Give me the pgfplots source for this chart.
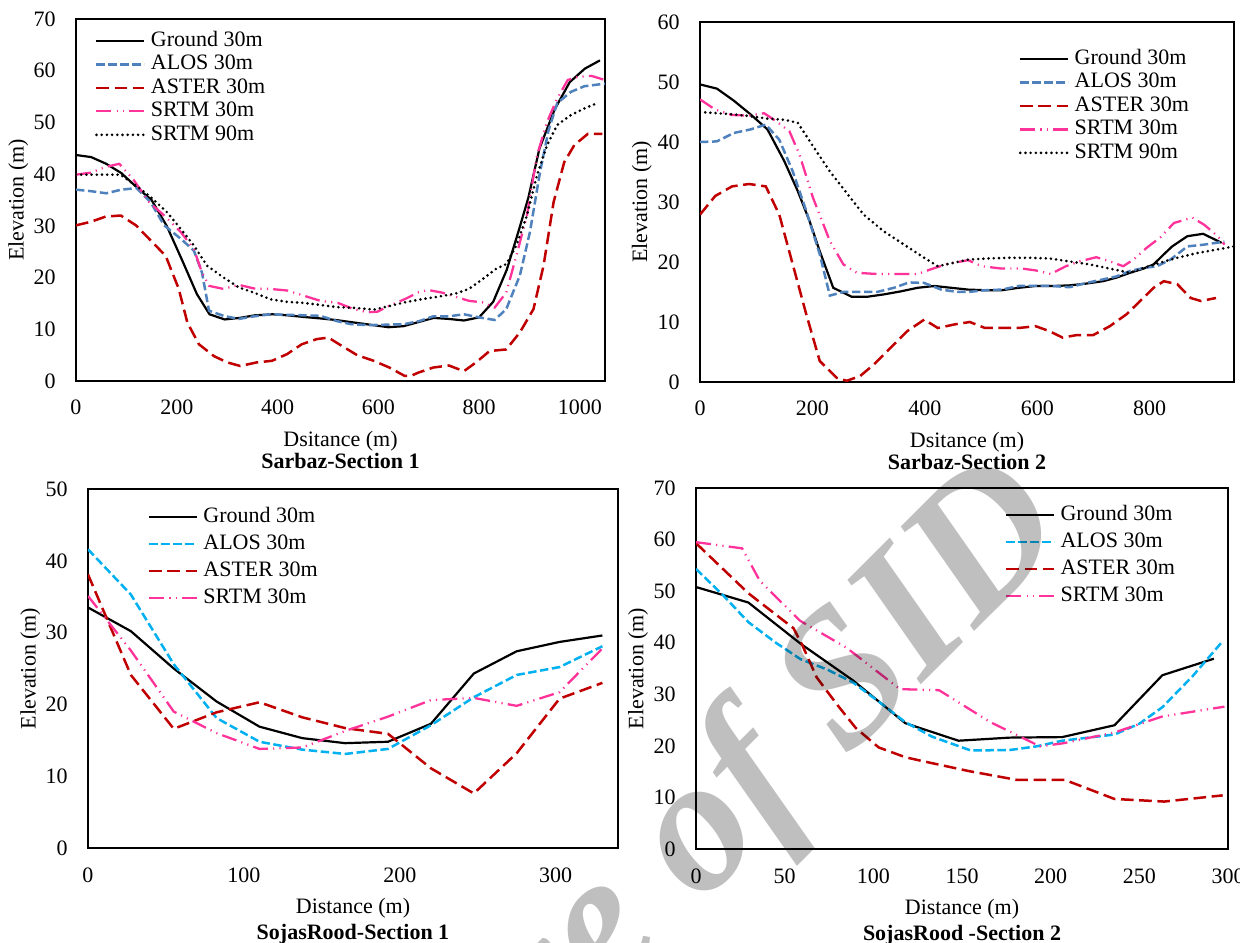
\documentclass[border=0pt]{standalone}
\usepackage{pgfplots}
\pgfplotsset{compat=1.18}
\usepackage{fontspec}
\setmainfont{Liberation Serif}
\definecolor{alosA}{HTML}{4F81BD}
\definecolor{alosB}{HTML}{00B0F0}
\definecolor{aster}{HTML}{C00000}
\definecolor{srtm}{HTML}{FF3399}
\pgfplotsset{
  ground/.style={black, line width=1.1pt, solid},
  alos/.style={line width=1.25pt, dash pattern=on 4.2pt off 1.8pt},
  aster/.style={color=aster, line width=1.25pt, dash pattern=on 6.3pt off 2.8pt},
  srtmA/.style={color=srtm, line width=1.15pt, dash pattern=on 7.5pt off 2.6pt on 0.6pt off 2.6pt on 0.6pt off 2.6pt},
  srtmB/.style={black, line width=1.45pt, line cap=round, dash pattern=on 0pt off 2.6pt},
  myaxis/.style={
    scale only axis, anchor=south west,
    axis line style={black, line width=0.7pt},
    major tick length=0pt, tick style={draw=none},
    tick label style={font=\fontsize{11}{11}\selectfont},
    /pgf/number format/assume math mode=true,
    /pgf/number format/1000 sep={},
    yticklabel style={anchor=east, inner sep=0pt, xshift=-10pt},
    xticklabel style={anchor=north, inner sep=0pt, yshift=-9pt},
    every axis y label/.style={at={(axis description cs:-0.109,0.5)}, anchor=center, rotate=90, inner sep=0pt, font=\fontsize{11}{11}\selectfont},
    every axis x label/.style={at={(axis description cs:0.5,-0.139)}, anchor=north, align=center, inner sep=0pt, font=\fontsize{11}{11}\selectfont},
    legend cell align=left,
    legend image code/.code={\draw[##1] (0pt,0pt) -- (24pt,0pt);},
    legend style={draw=none, fill=none, inner sep=0pt, outer sep=0pt, anchor=north west,
      font=\fontsize{11}{11}\selectfont, column sep=2.5pt,
      nodes={inner sep=0pt, text height=7.5pt, text depth=2pt}},
    ylabel={Elevation (m)},
  },
}
\begin{document}
\begin{tikzpicture}
\useasboundingbox (0,0) rectangle (620pt,471pt);
% ---------------- Panel 1
\begin{axis}[myaxis, at={(38pt,280.5pt)}, width=264.5pt, height=181pt,
  xmin=0, xmax=1050, ymin=0, ymax=70,
  xtick={0,200,400,600,800,1000}, ytick={0,10,...,70},
  xlabel={Dsitance (m)\\\textbf{Sarbaz-Section 1}},
  legend style={at={(axis description cs:0.036,0.966)}, row sep=2.25pt}]
\addplot[ground] coordinates {(0,43.7) (30,43.3) (60,42.0) (90,40.2) (120,37.5) (150,35.0) (180,30.0) (210,23.5) (240,16.8) (265,12.9) (295,11.9) (325,12.2) (355,12.7) (390,12.9) (420,12.7) (450,12.4) (485,12.1) (515,11.8) (545,11.4) (575,11.0) (620,10.4) (650,10.6) (680,11.4) (710,12.2) (740,12.0) (770,11.7) (800,12.3) (828,15.3) (855,21.5) (880,29.5) (898,35.5) (920,45.0) (950,52.5) (980,57.8) (1010,60.4) (1040,62.0)};
\addlegendentry{Ground 30m}
\addplot[alos, color=alosA] coordinates {(0,37.0) (30,36.7) (60,36.3) (90,37.0) (120,37.3) (148,34.6) (175,30.1) (208,27.5) (234,25.2) (250,21.0) (264,13.6) (293,12.6) (323,12.0) (353,12.5) (386,12.9) (419,12.8) (452,12.7) (485,12.6) (517,11.6) (545,11.0) (580,10.8) (622,10.9) (652,11.0) (682,11.6) (709,12.5) (740,12.5) (770,12.9) (800,12.3) (831,11.8) (854,13.9) (881,20.4) (901,28.8) (921,40.4) (938,48.5) (955,53.7) (982,55.9) (1009,57.0) (1050,57.5)};
\addlegendentry{ALOS 30m}
\addplot[aster] coordinates {(0,30.1) (30,30.8) (59,31.8) (89,32.0) (119,30.1) (148,27.2) (178,24.2) (204,17.8) (221,11.3) (244,7.1) (274,4.8) (300,3.6) (326,2.9) (359,3.6) (389,3.9) (419,5.2) (448,7.1) (478,8.1) (501,8.4) (524,7.0) (558,5.0) (591,3.9) (622,2.6) (652,1.0) (665,1.0) (679,1.6) (709,2.6) (740,3.0) (770,1.9) (794,3.6) (821,5.8) (854,6.1) (881,9.4) (908,13.9) (928,22.3) (948,34.6) (969,42.3) (989,45.6) (1016,47.8) (1045,47.8)};
\addlegendentry{ASTER 30m}
\addplot[srtmA] coordinates {(0,39.9) (30,40.3) (59,41.4) (86,42.0) (115,38.8) (145,34.6) (175,32.0) (208,28.8) (234,25.5) (250,21.0) (264,18.4) (293,17.8) (323,18.6) (353,17.9) (386,17.8) (419,17.5) (452,16.5) (485,15.5) (520,15.1) (551,13.9) (578,13.3) (598,13.4) (625,14.7) (652,15.8) (679,17.1) (699,17.6) (726,17.1) (753,16.3) (780,15.5) (807,15.2) (831,14.2) (854,17.1) (874,24.2) (895,32.0) (915,43.6) (935,50.1) (955,54.6) (976,58.2) (996,58.8) (1023,59.0) (1050,58.2)};
\addlegendentry{SRTM 30m}
\addplot[srtmB] coordinates {(0,39.9) (30,39.9) (60,39.9) (88,39.9) (119,37.8) (148,35.6) (181,32.6) (208,29.4) (234,26.2) (260,22.3) (293,20.0) (323,18.1) (353,17.1) (386,15.8) (419,15.3) (452,15.1) (485,14.7) (517,14.3) (558,14.1) (591,13.8) (618,14.4) (652,15.2) (685,15.8) (719,16.3) (753,16.9) (780,17.8) (807,19.7) (834,21.7) (854,22.6) (874,26.2) (895,32.0) (915,39.8) (935,45.6) (955,49.5) (982,51.4) (1009,52.7) (1036,53.8)};
\addlegendentry{SRTM 90m}
\end{axis}
% ---------------- Panel 2
\begin{axis}[myaxis, at={(350pt,280pt)}, width=267pt, height=180pt,
  xmin=0, xmax=950, ymin=0, ymax=60,
  xtick={0,200,400,600,800}, ytick={0,10,...,60},
  xlabel={Dsitance (m)\\\textbf{Sarbaz-Section 2}},
  legend style={at={(axis description cs:0.597,0.924)}, row sep=2.25pt}]
\addplot[ground] coordinates {(0,49.6) (30,48.9) (60,46.9) (90,44.6) (120,42.1) (150,36.8) (174,31.8) (195,26.8) (213,21.8) (237,15.7) (270,14.2) (297,14.2) (327,14.6) (357,15.1) (387,15.7) (417,16.0) (447,15.7) (477,15.4) (507,15.3) (537,15.3) (567,15.7) (597,16.0) (627,16.0) (657,16.1) (687,16.4) (717,16.8) (741,17.4) (765,18.2) (789,18.9) (807,19.6) (822,21.0) (840,22.6) (867,24.3) (895,24.7) (928,23.2)};
\addlegendentry{Ground 30m}
\addplot[alos, color=alosA] coordinates {(0,40.0) (30,40.1) (60,41.5) (90,42.1) (117,42.9) (141,40.4) (165,35.1) (189,28.5) (213,21.3) (231,14.4) (255,15.0) (285,15.0) (315,15.0) (345,15.7) (372,16.6) (399,16.5) (429,15.4) (459,15.0) (477,15.0) (507,15.3) (537,15.4) (567,16.0) (597,16.0) (627,16.0) (657,15.8) (687,16.5) (717,17.1) (741,17.6) (765,18.5) (789,19.0) (813,19.3) (837,20.4) (867,22.6) (897,22.9) (933,23.4)};
\addlegendentry{ALOS 30m}
\addplot[aster] coordinates {(0,27.9) (27,31.0) (57,32.6) (87,33.0) (117,32.6) (141,27.9) (165,19.6) (189,11.3) (213,3.5) (243,0.7) (261,0.2) (285,1.0) (309,2.9) (339,5.7) (369,8.5) (399,10.4) (423,9.0) (453,9.6) (480,10.0) (507,9.0) (537,9.0) (567,9.0) (597,9.3) (621,8.5) (645,7.4) (669,7.8) (699,7.8) (729,9.3) (759,11.3) (783,13.5) (807,15.7) (825,16.8) (849,16.3) (873,14.0) (891,13.5) (918,14.0)};
\addlegendentry{ASTER 30m}
\addplot[srtmA] coordinates {(0,47.1) (27,45.4) (57,44.5) (87,44.4) (114,44.8) (135,43.5) (159,41.8) (177,37.9) (201,30.7) (231,23.5) (255,19.6) (279,18.2) (315,18.0) (351,18.0) (387,18.0) (411,18.8) (441,19.7) (477,20.3) (501,19.3) (537,18.9) (573,18.9) (597,18.6) (624,18.0) (651,19.3) (675,20.1) (705,20.8) (729,20.1) (753,19.3) (771,20.4) (795,22.4) (819,24.1) (843,26.5) (876,27.4) (897,26.2) (921,24.3) (933,22.9)};
\addlegendentry{SRTM 30m}
\addplot[srtmB] coordinates {(0,45.0) (30,44.8) (60,44.6) (90,44.3) (120,43.9) (150,43.7) (174,43.2) (201,39.3) (231,35.1) (261,31.5) (291,27.9) (327,25.1) (363,22.9) (399,20.7) (423,19.3) (453,19.9) (477,20.4) (513,20.6) (549,20.7) (585,20.7) (621,20.6) (657,20.1) (693,19.6) (729,18.9) (765,18.2) (789,19.0) (819,19.9) (849,20.7) (885,21.5) (921,22.1) (950,22.6)};
\addlegendentry{SRTM 90m}
\end{axis}
% ---------------- Panel 3
\begin{axis}[myaxis, at={(44pt,47pt)}, width=265pt, height=179.5pt,
  xmin=0, xmax=340, ymin=0, ymax=50,
  xtick={0,100,200,300}, ytick={0,10,...,50},
  xticklabel style={yshift=-0.5pt},
  xlabel={Distance (m)\\[2pt]\textbf{SojasRood-Section 1}},
  legend style={at={(axis description cs:0.113,0.949)}, row sep=4pt}]
\addplot[ground] coordinates {(0,33.5) (27.5,30.2) (55,25.0) (82.5,20.4) (110,16.9) (137.5,15.3) (165,14.6) (192.5,14.8) (220,17.3) (247.5,24.3) (275,27.4) (302.5,28.7) (330,29.6)};
\addlegendentry{Ground 30m}
\addplot[alos, color=alosB] coordinates {(0,41.6) (27.5,35.3) (55,25.6) (82.5,18.1) (110,14.8) (137.5,13.7) (165,13.1) (192.5,13.8) (220,17.1) (247.5,21.0) (275,24.1) (302.5,25.2) (330,28.1)};
\addlegendentry{ALOS 30m}
\addplot[aster] coordinates {(0,38.1) (27.5,24.1) (55,16.6) (82.5,18.9) (110,20.3) (137.5,18.2) (165,16.7) (192.5,15.9) (220,11.1) (247.5,7.6) (275,13.2) (302.5,20.8) (330,23.0)};
\addlegendentry{ASTER 30m}
\addplot[srtmA] coordinates {(0,35.1) (27.5,27.5) (55,19.0) (82.5,16.0) (110,13.8) (137.5,14.0) (165,16.3) (192.5,18.3) (220,20.6) (247.5,20.9) (275,19.8) (302.5,21.7) (330,27.8)};
\addlegendentry{SRTM 30m}
\end{axis}
% ---------------- Panel 4
\begin{axis}[myaxis, at={(348pt,46.5pt)}, width=266pt, height=180.5pt,
  xmin=0, xmax=300, ymin=0, ymax=70,
  xtick={0,50,...,300}, ytick={0,10,...,70},
  xticklabel style={yshift=-0.5pt},
  xlabel={Distance (m)\\[2pt]\textbf{SojasRood -Section 2}},
  legend style={at={(axis description cs:0.581,0.952)}, row sep=4pt}]
\addplot[ground] coordinates {(0,50.8) (29.5,47.8) (59,39.8) (88.5,32.7) (118,24.4) (148,21.0) (177,21.6) (206.5,21.7) (236,24.0) (263,33.7) (292,36.9)};
\addlegendentry{Ground 30m}
\addplot[alos, color=alosB] coordinates {(0,54.3) (15,49.3) (29.5,44.0) (45,40.0) (59,36.8) (74,34.8) (88.5,32.3) (103,28.6) (118,24.6) (133,21.8) (155,19.1) (177,19.2) (192,19.9) (206.5,21.0) (236,22.2) (250,24.3) (263,27.5) (280,33.5) (297,40.3)};
\addlegendentry{ALOS 30m}
\addplot[aster] coordinates {(0,59.3) (29.5,49.6) (55,42.8) (60,39.5) (68,33.3) (80,27.8) (90,23.5) (103,19.7) (118,17.8) (127,17.1) (154,15.1) (181,13.4) (208,13.4) (236,9.7) (264,9.2) (297,10.4)};
\addlegendentry{ASTER 30m}
\addplot[srtmA] coordinates {(0,59.5) (26,58.3) (36,52.0) (58.5,44.3) (85,39.0) (115,31.0) (137,30.8) (166,24.6) (194,19.9) (207,20.5) (236,22.6) (263,25.7) (298,27.6)};
\addlegendentry{SRTM 30m}
\end{axis}
% watermark
\node[rotate=45, anchor=base east, inner sep=0pt, text=black, text opacity=0.25,
  font=\fontsize{96}{96}\selectfont\bfseries\itshape] at (537pt,205pt) {Archive of SID};
\end{tikzpicture}
\end{document}
